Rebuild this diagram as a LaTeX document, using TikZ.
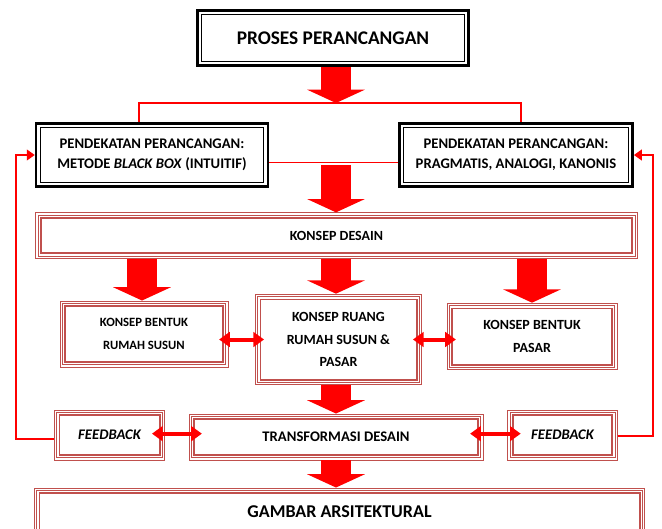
\documentclass[tikz,border=0pt]{standalone}
\usepackage{fontspec}
\setmainfont{Carlito}
\usetikzlibrary{arrows.meta,calc}
\definecolor{boxred}{RGB}{192,80,77}

\begin{document}
\begin{tikzpicture}[x=0.75pt,y=-0.75pt]
\useasboundingbox (0,0) rectangle (662,529);

% Define styles
\tikzstyle{blackbox} = [rectangle, draw, line width=1.8pt, fill=white, align=center, font=\bfseries\fontsize{11}{15}\selectfont,
  path picture={\draw[line width=0.8pt] ([shift={(3.2pt,-3.2pt)}]path picture bounding box.north west) rectangle ([shift={(-3.2pt,3.2pt)}]path picture bounding box.south east);}]
\tikzstyle{redbox} = [rectangle, draw=boxred, line width=0.7pt, fill=white, align=center, font=\bfseries\fontsize{10}{16.5}\selectfont,
  path picture={\draw[boxred, line width=0.7pt] ([shift={(1.6pt,-1.6pt)}]path picture bounding box.north west) rectangle ([shift={(-1.6pt,1.6pt)}]path picture bounding box.south east);
    \draw[boxred, line width=1.1pt] ([shift={(3.8pt,-3.8pt)}]path picture bounding box.north west) rectangle ([shift={(-3.8pt,3.8pt)}]path picture bounding box.south east);}]
\tikzstyle{bigarrow} = [draw=red, line width=23pt, -{Triangle[width=43pt,length=10pt]}]
\tikzstyle{dblarrow} = [draw=red, line width=3pt, {Triangle[width=11pt,length=8pt]}-{Triangle[width=11pt,length=8pt]}]
\tikzstyle{redline} = [draw=red, line width=1pt]
\tikzstyle{fbarrow} = [draw=red, line width=1.6pt, -{Triangle[width=8pt,length=6pt]}]

% Nodes
\node [blackbox, minimum width=203pt, minimum height=41pt, font=\bfseries\fontsize{14.5}{16}\selectfont] (proses) at (333,38) {PROSES PERANCANGAN};
\node [blackbox, minimum width=174pt, minimum height=47pt] (appL) at (152,155) {PENDEKATAN PERANCANGAN:\\METODE \textit{BLACK BOX} (INTUITIF)};
\node [blackbox, minimum width=175pt, minimum height=47pt] (appR) at (516,155) {PENDEKATAN PERANCANGAN:\\PRAGMATIS, ANALOGI, KANONIS};

\node [redbox, minimum width=451pt, minimum height=34pt, font=\bfseries\fontsize{10.5}{12}\selectfont] (desain) at (336.5,235.5) {KONSEP DESAIN};
\node [redbox, minimum width=126pt, minimum height=49.5pt, font=\bfseries\fontsize{9.5}{17}\selectfont] (bentukRS) at (144,334) {KONSEP BENTUK\\RUMAH SUSUN};
\node [redbox, minimum width=125pt, minimum height=68pt, font=\bfseries\fontsize{10.5}{17}\selectfont] (ruang) at (338.5,339.5) {KONSEP RUANG\\RUMAH SUSUN \&\\PASAR};
\node [redbox, minimum width=127.5pt, minimum height=50pt, font=\bfseries\fontsize{10.5}{17}\selectfont] (bentukP) at (532,336.5) {KONSEP BENTUK\\PASAR};

\node [redbox, minimum width=83pt, minimum height=37.5pt, font=\bfseries\itshape\fontsize{11}{12}\selectfont] (fbL) at (109.5,435) {FEEDBACK};
\node [redbox, minimum width=220.5pt, minimum height=34.5pt, font=\bfseries\fontsize{11}{12}\selectfont] (transf) at (336,437) {TRANSFORMASI DESAIN};
\node [redbox, minimum width=82pt, minimum height=37.5pt, font=\bfseries\itshape\fontsize{11}{12}\selectfont] (fbR) at (562.5,435) {FEEDBACK};
\node [redbox, minimum width=458pt, minimum height=36pt, font=\bfseries\fontsize{13.5}{15}\selectfont] (gambar) at (339.5,512) {GAMBAR ARSITEKTURAL};

\coordinate (split) at (336,103);
\coordinate (join) at (336,165);

% Arrows
\draw [bigarrow] (split |- proses.south) -- (split);
\draw [redline] ($(appL.north)+(-13,0)$) |- (split) -| ($(appR.north)+(5,0)$);
\draw [redline] ([yshift=-5.5pt]appL.east) -- ([yshift=-5.5pt]appR.west);
\draw [bigarrow] (join) -- (join |- desain.north);

\draw [bigarrow] ($(bentukRS.north |- desain.south)+(-2,0)$) -- ($(bentukRS.north)+(-2,0)$);
\draw [bigarrow] (join |- desain.south) -- (join |- ruang.north);
\draw [bigarrow] (bentukP.north |- desain.south) -- (bentukP.north);
\draw [bigarrow] (join |- ruang.south) -- (join |- transf.north);
\draw [bigarrow] (join |- transf.south) -- (join |- gambar.north);

\draw [dblarrow, shorten <=-7pt, shorten >=-7pt] (bentukRS.east |- ruang.west) -- (ruang.west);
\draw [dblarrow, shorten <=-7pt, shorten >=-7pt] (ruang.east) -- (ruang.east -| bentukP.west);
\draw [dblarrow, shorten <=-10pt, shorten >=-10pt] ([yshift=1pt]fbL.east) -- ([yshift=1pt]fbL.east -| transf.west);
\draw [dblarrow, shorten <=-10pt, shorten >=-10pt] ([yshift=1pt]transf.east |- fbR.west) -- ([yshift=1pt]fbR.west);

\draw [fbarrow] ([yshift=-3pt]fbL.west) -- ++(-38,0) |- (appL.west);
\draw [fbarrow] ([yshift=-1pt]fbR.east) -- ++(35,0) |- (appR.east);

\end{tikzpicture}
\end{document}
